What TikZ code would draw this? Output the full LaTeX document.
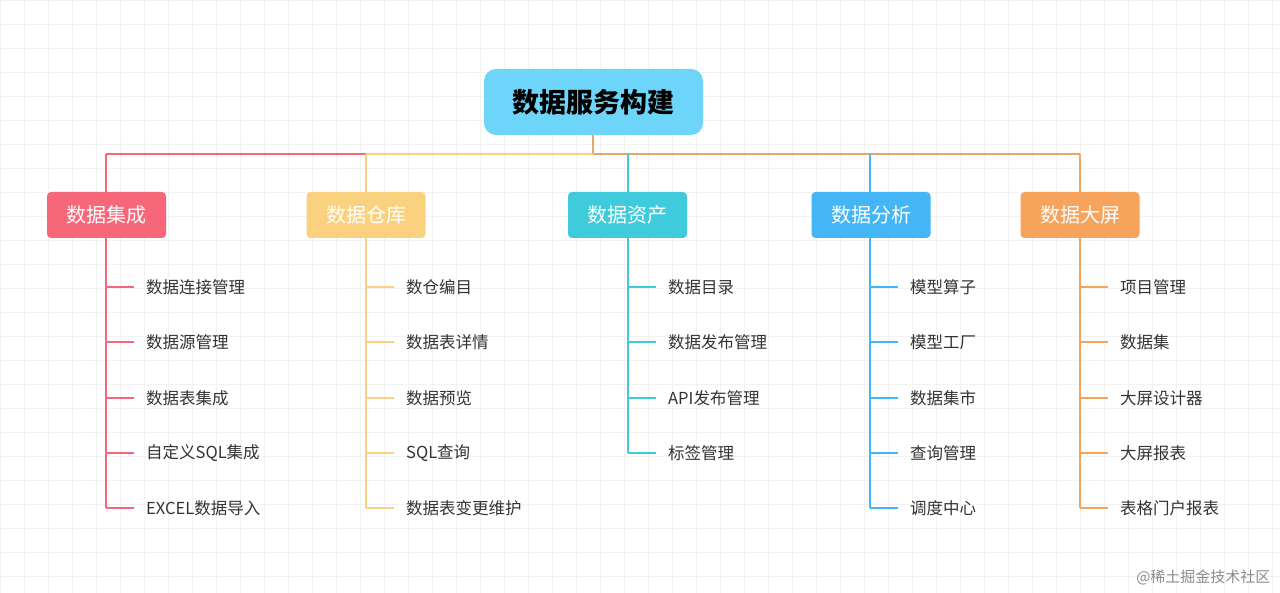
\documentclass[tikz,border=0pt]{standalone}
\usepackage{fontspec}
\setmainfont{Noto Sans CJK SC}
\definecolor{cred}{HTML}{F7677A}
\definecolor{cyel}{HTML}{FAD27F}
\definecolor{ccya}{HTML}{3FCBDB}
\definecolor{cblu}{HTML}{45B6F5}
\definecolor{cora}{HTML}{F7A35C}
\definecolor{ctan}{HTML}{E8A56A}
\definecolor{croot}{HTML}{6DD5FA}
\definecolor{ctxt}{HTML}{333333}
\begin{document}
\begin{tikzpicture}[x=1pt,y=-1pt,
  rootbox/.style={fill=croot,rounded corners=12pt,minimum width=219pt,minimum height=66pt,font=\fontsize{27}{30}\selectfont\bfseries,text=black},
  branch/.style={fill=#1,rounded corners=4pt,minimum width=119pt,minimum height=46pt,font=\fontsize{20}{23}\selectfont,text=white},
  item/.style={anchor=west,font=\fontsize{16.5}{19}\selectfont,text=ctxt,inner sep=0pt},
  ln/.style={draw=#1,line width=2.2pt}]
\fill[white] (0,0) rectangle (1280,593);
\useasboundingbox (0,0) rectangle (1280,593);
\foreach \i in {0,24,...,1280} \draw[black!5,line width=0.8pt] (\i,0) -- (\i,593);
\foreach \j in {0,24,...,593} \draw[black!5,line width=0.8pt] (0,\j) -- (1280,\j);
\node[rootbox] (root) at (593.5,102) {数据服务构建};
\coordinate (hub) at (593,154);
\coordinate (h1) at (106,154);
\coordinate (h2) at (366,154);
\coordinate (h3) at (628,154);
\coordinate (h4) at (870,154);
\coordinate (h5) at (1080,154);
\draw[ln=ctan] (root.south -| hub) -- (hub);
\draw[ln=cred] (h1) -- (h2);
\draw[ln=cyel] (h2) -- (hub);
\draw[ln=ctan] (hub) -- (h5);
\node[branch=cred] (b1) at (106.5,215) {数据集成};
\node[branch=cyel] (b2) at (366,215) {数据仓库};
\node[branch=ccya] (b3) at (627.5,215) {数据资产};
\node[branch=cblu] (b4) at (871,215) {数据分析};
\node[branch=cora] (b5) at (1080,215) {数据大屏};
\foreach \k/\c in {1/cred,2/cyel,3/ccya,4/cblu,5/cora}
  \draw[ln=\c] (h\k) -- (b\k.north -| h\k);
\foreach \k/\c/\x/\last/\names in {
 1/cred/106/508/{数据连接管理/287,数据源管理/342,数据表集成/398,自定义SQL集成/453,EXCEL数据导入/508},
 2/cyel/366/508/{数仓编目/287,数据表详情/342,数据预览/398,SQL查询/453,数据表变更维护/508},
 3/ccya/628/453/{数据目录/287,数据发布管理/342,API发布管理/398,标签管理/453},
 4/cblu/870/508/{模型算子/287,模型工厂/342,数据集市/398,查询管理/453,调度中心/508},
 5/cora/1080/508/{项目管理/287,数据集/342,大屏设计器/398,大屏报表/453,表格门户报表/508}}{
  \coordinate (e\k) at (\x,\last);
  \draw[ln=\c,line width=1.8pt] (b\k.south -| e\k) -- (e\k);
  \foreach \t/\yy [count=\n] in \names {
    \coordinate (t\k-\n) at (\x,\yy);
    \node[item] (i\k-\n) at (\x+40,\yy) {\t};
    \draw[ln=\c,line width=1.8pt] (t\k-\n) -- ++(28,0);
  }
}
\node[anchor=east,text=black!45,font=\fontsize{15}{17}\selectfont] (wm) at (1274,577) {@稀土掘金技术社区};
\end{tikzpicture}
\end{document}
